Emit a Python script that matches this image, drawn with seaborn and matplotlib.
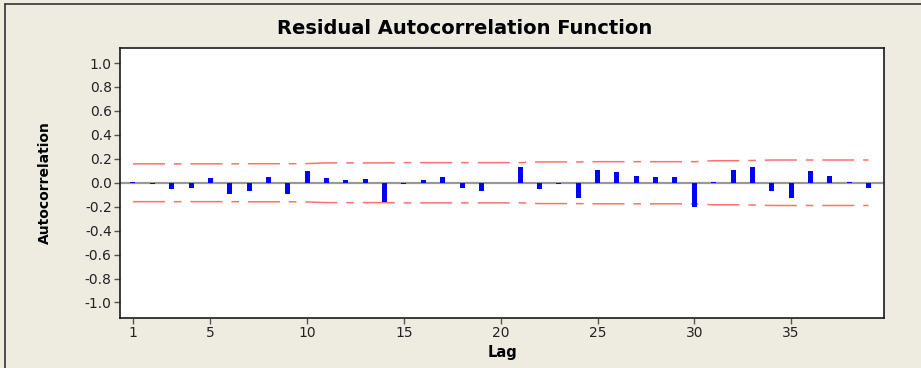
import numpy as np
import pandas as pd
import matplotlib
matplotlib.use("Agg")
import matplotlib.pyplot as plt
from matplotlib.lines import Line2D
import seaborn as sns

lags = list(range(1, 40))
acf = [0.01, -0.01, -0.05, -0.04, 0.04, -0.09, -0.07, 0.05, -0.09, 0.10,
       0.04, 0.02, 0.03, -0.16, -0.01, 0.02, 0.05, -0.04, -0.07, 0.00,
       0.13, -0.05, -0.01, -0.13, 0.11, 0.09, 0.06, 0.05, 0.05, -0.20,
       0.01, 0.11, 0.13, -0.07, -0.13, 0.10, 0.06, 0.01, -0.04]
upper = [0.158, 0.158, 0.158, 0.158, 0.158, 0.158, 0.159, 0.159, 0.159, 0.160,
         0.166, 0.166, 0.166, 0.166, 0.168, 0.168, 0.168, 0.168, 0.168, 0.168,
         0.168, 0.174, 0.174, 0.174, 0.176, 0.176, 0.176, 0.176, 0.176, 0.176,
         0.184, 0.184, 0.186, 0.190, 0.190, 0.190, 0.190, 0.190, 0.190]
lower = [-u for u in upper]
yticks = [1.0, 0.8, 0.6, 0.4, 0.2, 0.0, -0.2, -0.4, -0.6, -0.8, -1.0]
xticks = [1, 5, 10, 15, 20, 25, 30, 35]

df = pd.DataFrame({"Lag": lags, "ACF": acf, "Upper": upper, "Lower": lower})

sns.set_style("white")
plt.rcParams['font.family'] = ['DejaVu Sans']
plt.rcParams['text.color'] = 'black'
plt.rcParams['axes.labelcolor'] = 'black'

bg = "#EEEBE0"
fig = plt.figure(figsize=(9.21, 3.68), dpi=100, facecolor=bg)
ax = fig.add_axes([120 / 921, 1 - 318 / 368, 764 / 921, 270.5 / 368])
ax.set_facecolor("white")

ax.axhline(0, color="#999999", lw=1.6, zorder=1)
sns.barplot(data=df, x="Lag", y="ACF", native_scale=True, width=0.26,
            color="#0000FF", saturation=1, edgecolor="none", ax=ax, zorder=3)
dash = (0, (21, 5.8, 5, 5.8))
sns.lineplot(data=df, x="Lag", y="Upper", color="#ff7070", lw=1.1, ls="-", ax=ax, zorder=2)
sns.lineplot(data=df, x="Lag", y="Lower", color="#ff7070", lw=1.1, ls="-", ax=ax, zorder=2)
for line in ax.lines[1:]:
    line.set_linestyle(dash)

ax.set_xlim(0.33, 39.8)
ax.set_ylim(-1.13, 1.13)
ax.set_yticks(yticks)
ax.set_yticklabels([f"{v:.1f}" for v in yticks])
ax.set_xticks(xticks)
ax.tick_params(axis="both", direction="out", length=4, width=1, color="#555555",
               labelsize=10, labelcolor="#222222", left=True, bottom=True, pad=2)
for s in ax.spines.values():
    s.set_color("#1a1a1a")
    s.set_linewidth(1.2)

ax.set_xlabel("Lag", fontsize=10.5, fontweight="bold", labelpad=3)
ax.set_ylabel("Autocorrelation", fontsize=10, fontweight="bold", va="center")
ax.yaxis.set_label_coords((45 - 120) / 764, 0.5)
fig.text(465 / 921, 1 - 29 / 368, "Residual Autocorrelation Function",
         ha="center", va="center", fontsize=14, fontweight="bold", color="black")

fig.add_artist(Line2D([5 / 921, 5 / 921], [0, 1 - 3.5 / 368], transform=fig.transFigure,
                      color="#333333", lw=1.2))
fig.add_artist(Line2D([5 / 921, 1], [1 - 3.5 / 368, 1 - 3.5 / 368], transform=fig.transFigure,
                      color="#333333", lw=1.2))

fig.savefig("out.png", dpi=100, facecolor=bg)
